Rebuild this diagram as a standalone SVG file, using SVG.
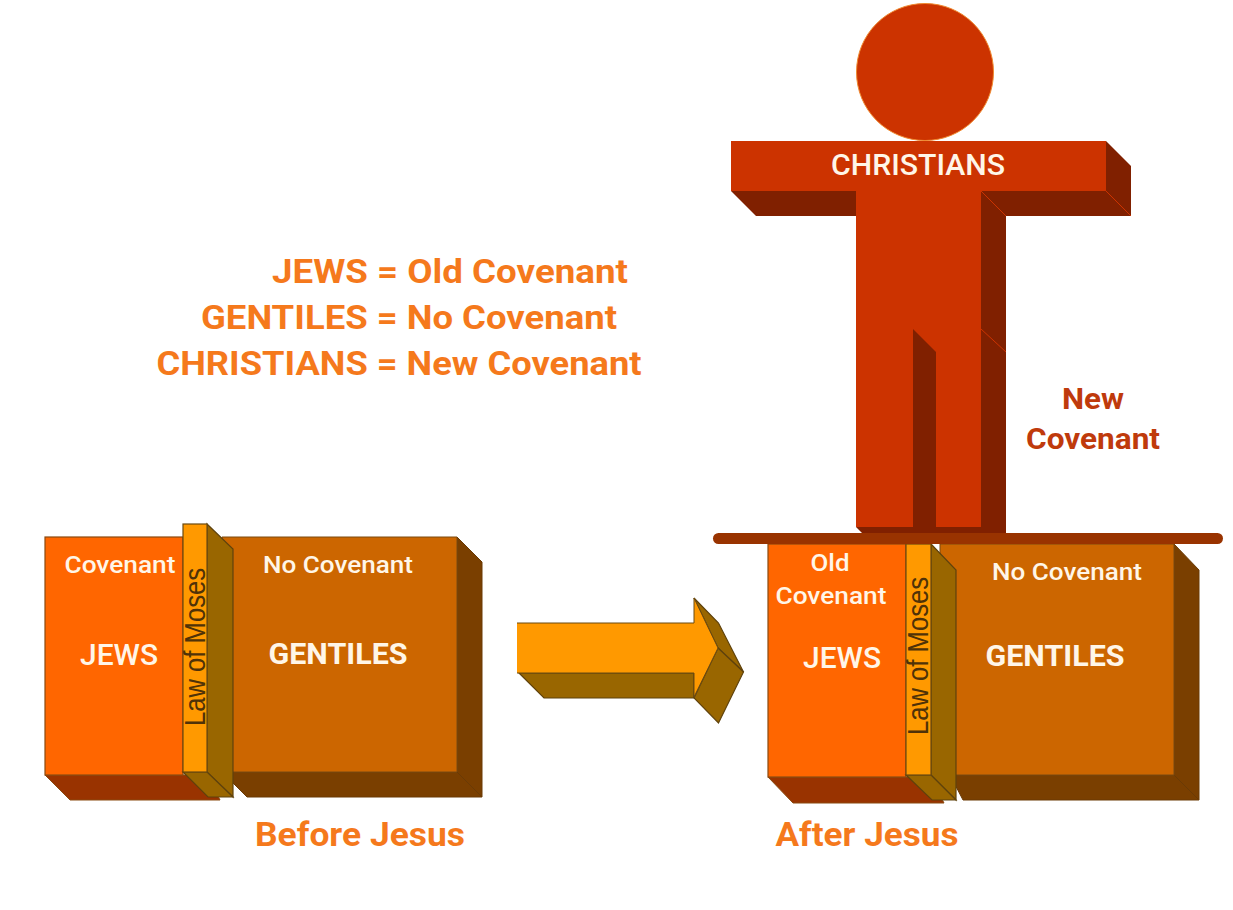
<svg xmlns="http://www.w3.org/2000/svg" width="1233" height="910" viewBox="0 0 1233 910">
<style>
.t{font-family:"Roboto","Liberation Sans",sans-serif;font-weight:500}
.b{font-weight:700}
.w{fill:#fff6e8;text-anchor:middle}
.o{fill:#f5791c;text-anchor:middle;font-size:33px;font-weight:700}
.n{fill:#bf3a0c;text-anchor:middle;font-size:29px;font-weight:700}
.l{fill:#4f3208;font-family:"Liberation Sans",sans-serif;font-size:29px;text-anchor:middle}
.j{fill:#ff6600;stroke:#8a4a10;stroke-width:1.2}
.jd{fill:#993300;stroke:#8a4a10;stroke-width:1}
.g{fill:#cc6600;stroke:#7a4a10;stroke-width:1}
.gd{fill:#7a3f00;stroke:#6a3a05;stroke-width:1}
.m{fill:#ff9900;stroke:#6b4a10;stroke-width:1.2}
.md{fill:#996600;stroke:#5f420c;stroke-width:1.2}
.f{fill:#cc3300}
.fd{fill:#802000}
</style>
<rect width="1233" height="910" fill="#fff"/>

<g id="legend" class="t">
<text class="o" x="450" y="283" textLength="356" lengthAdjust="spacingAndGlyphs">JEWS = Old Covenant</text>
<text class="o" x="409" y="329" textLength="416" lengthAdjust="spacingAndGlyphs">GENTILES = No Covenant</text>
<text class="o" x="399" y="375" textLength="485" lengthAdjust="spacingAndGlyphs">CHRISTIANS = New Covenant</text>
</g>

<g id="before-gentiles">
<polygon class="gd" points="457,537 482,562 482,797 457,772"/>
<polygon class="gd" points="222,772 457,772 482,797 247,797"/>
<polygon class="g" points="222,537 457,537 457,772 222,772"/>
<text class="t w" x="338" y="573" font-size="24" textLength="150" lengthAdjust="spacingAndGlyphs">No Covenant</text>
<text class="t w b" x="338" y="664" font-size="29" textLength="139" lengthAdjust="spacingAndGlyphs">GENTILES</text>
</g>
<g id="before-jews">
<polygon class="jd" points="45,775 207,775 220,800 70,800"/>
<rect class="j" x="45" y="537" width="138" height="238"/>
<text class="t w" x="120" y="573" font-size="24" textLength="111" lengthAdjust="spacingAndGlyphs">Covenant</text>
<text class="t w" x="119" y="665" font-size="29" textLength="78" lengthAdjust="spacingAndGlyphs">JEWS</text>
</g>
<g id="before-law">
<polygon class="md" points="207,524 233,549 233,797 207,772"/>
<polygon class="md" points="183,772 207,772 233,797 208,797"/>
<rect class="m" x="183" y="524" width="24" height="248"/>
<text class="l" transform="translate(205,647) rotate(-90)" textLength="158" lengthAdjust="spacingAndGlyphs">Law of Moses</text>
</g>
<text id="before-label" class="t o" x="360" y="846" textLength="210" lengthAdjust="spacingAndGlyphs">Before Jesus</text>

<g id="connectors">
<polygon class="md" points="519,673 694,673 694,698 544,698"/>
<polygon class="md" points="694,598 718.500,623 743.500,672 718,648"/>
<polygon class="md" points="718,648 743.500,672 718.500,723 694,698"/>
<polygon fill="#ff9900" points="517,623 694,623 694,598 718,648 694,697 694,673 517,673"/>
<path fill="none" stroke="#6b4a10" stroke-width="1" d="M517,623H694V598L718,648L694,697V673H517"/>
</g>

<g id="after-gentiles">
<polygon class="gd" points="1174,544 1199,570 1199,800 1174,775"/>
<polygon class="gd" points="950,775 1174,775 1199,800 963,800"/>
<rect class="g" x="940" y="544" width="234" height="231"/>
<text class="t w" x="1067" y="580" font-size="24" textLength="150" lengthAdjust="spacingAndGlyphs">No Covenant</text>
<text class="t w b" x="1055" y="666" font-size="29" textLength="139" lengthAdjust="spacingAndGlyphs">GENTILES</text>
</g>
<g id="after-jews">
<polygon class="jd" points="768,777 930,777 944,803 793,803"/>
<rect class="j" x="768" y="544" width="138" height="233"/>
<text class="t w" x="830" y="571" font-size="24" textLength="39" lengthAdjust="spacingAndGlyphs">Old</text>
<text class="t w" x="831" y="604" font-size="24" textLength="111" lengthAdjust="spacingAndGlyphs">Covenant</text>
<text class="t w" x="842" y="668" font-size="29" textLength="78" lengthAdjust="spacingAndGlyphs">JEWS</text>
</g>
<g id="after-law">
<polygon class="md" points="931,544 956,570 956,800 931,775"/>
<polygon class="md" points="906,775 931,775 956,800 932,800"/>
<rect class="m" x="906" y="544" width="25" height="231"/>
<text class="l" transform="translate(928,656) rotate(-90)" textLength="158" lengthAdjust="spacingAndGlyphs">Law of Moses</text>
</g>

<g id="christians">
<circle cx="925" cy="72" r="68.500" class="f" stroke="#f08a30" stroke-width="1"/>
<polygon class="fd" points="731,191 856,191 856,216 756,216"/>
<polygon class="fd" points="1106,141 1131,166 1131,216 1106,191"/>
<polygon class="fd" points="981,191 1106,191 1131,216 1006,216"/>
<polygon class="fd" points="981,191 1006,216 1006,533 981,533"/>
<polygon class="fd" points="856,527 982,527 988,533 862,533"/>
<rect class="f" x="856" y="191" width="125" height="336"/>
<rect class="f" x="731" y="141" width="375" height="50"/>
<polygon class="fd" points="913,329 936,352 936,533 913,533"/>
<path fill="none" stroke="#cc3300" stroke-width="1" d="M981,191L1006,216M1106,191L1131,216M981,329L1006,352"/>
<text class="t w" x="918" y="175" font-size="29" textLength="174" lengthAdjust="spacingAndGlyphs">CHRISTIANS</text>
</g>
<g id="platform"><rect x="713" y="533" width="510" height="11" rx="5.500" fill="#993300"/></g>
<g id="new-covenant" class="t">
<text class="n" x="1093" y="409" textLength="62" lengthAdjust="spacingAndGlyphs">New</text>
<text class="n" x="1093" y="449" textLength="134" lengthAdjust="spacingAndGlyphs">Covenant</text>
</g>
<text id="after-label" class="t o" x="867" y="846" textLength="183" lengthAdjust="spacingAndGlyphs">After Jesus</text>
</svg>
